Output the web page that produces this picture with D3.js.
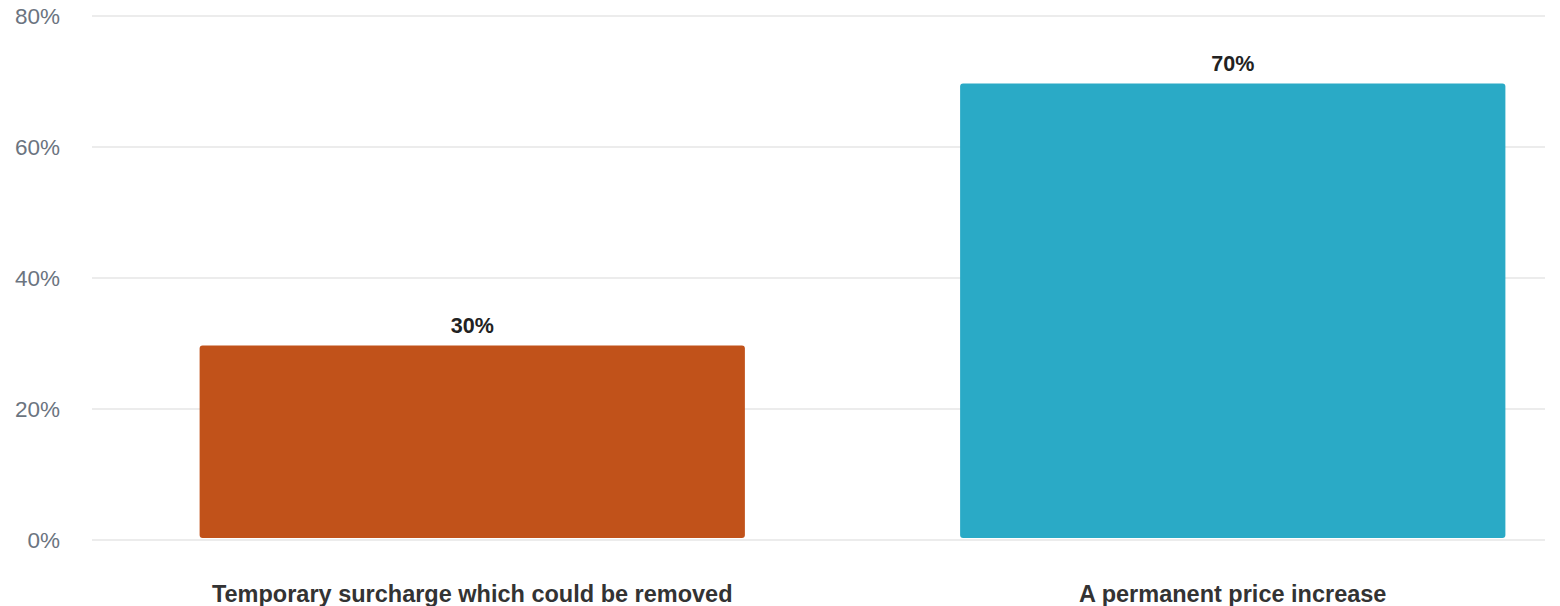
<!DOCTYPE html>
<html>
<head>
<meta charset="utf-8">
<script src="https://cdn.jsdelivr.net/npm/d3@7"></script>
<style>
  body { margin: 0; background: #fff; }
  svg text { font-family: "Liberation Sans", Arial, sans-serif; }
</style>
</head>
<body>
<div id="chart"></div>
<script>
const categories = ["Temporary surcharge which could be removed", "A permanent price increase"];
const values = [30, 70];
const colors = ["#c1521a", "#2aaac6"];
const yTicks = [0, 20, 40, 60, 80];

(function() {
    const width = 1560;
    const height = 606;

    const x = d3.scaleBand()
        .domain(categories)
        .range([92, 1613])
        .paddingInner(0.283)
        .paddingOuter(0.1415);

    const y = d3.scaleLinear().domain([0, 80]).range([540, 16]);

    const svg = d3.select("#chart").append("svg")
        .attr("width", width)
        .attr("height", height);

    // gridlines
    svg.append("g")
        .selectAll("line")
        .data(yTicks)
        .join("line")
        .attr("x1", 92)
        .attr("x2", 1545)
        .attr("y1", d => y(d))
        .attr("y2", d => y(d))
        .attr("stroke", "#e6e6e6")
        .attr("stroke-width", 1.5);

    // y axis labels
    svg.append("g")
        .selectAll("text")
        .data(yTicks)
        .join("text")
        .attr("x", 60)
        .attr("y", d => y(d))
        .attr("dy", "0.36em")
        .attr("text-anchor", "end")
        .attr("fill", "#6b7480")
        .attr("font-size", 22.5)
        .text(d => d + "%");

    // bars
    svg.append("g")
        .selectAll("rect")
        .data(values)
        .join("rect")
        .attr("x", (d, i) => x(categories[i]))
        .attr("width", x.bandwidth())
        .attr("y", d => y(d) + 2)
        .attr("height", d => y(0) - y(d) - 4)
        .attr("rx", 3)
        .attr("fill", (d, i) => colors[i]);

    // value labels
    svg.append("g")
        .selectAll("text")
        .data(values)
        .join("text")
        .attr("x", (d, i) => x(categories[i]) + x.bandwidth() / 2)
        .attr("y", d => y(d) - 11)
        .attr("text-anchor", "middle")
        .attr("fill", "#222")
        .attr("font-size", 21.5)
        .attr("font-weight", "bold")
        .text(d => d + "%");

    // category labels
    svg.append("g")
        .selectAll("text")
        .data(categories)
        .join("text")
        .attr("x", d => x(d) + x.bandwidth() / 2)
        .attr("y", 602)
        .attr("text-anchor", "middle")
        .attr("fill", "#333")
        .attr("font-size", 23.5)
        .attr("font-weight", "bold")
        .text(d => d);
}());
</script>
</body>
</html>
